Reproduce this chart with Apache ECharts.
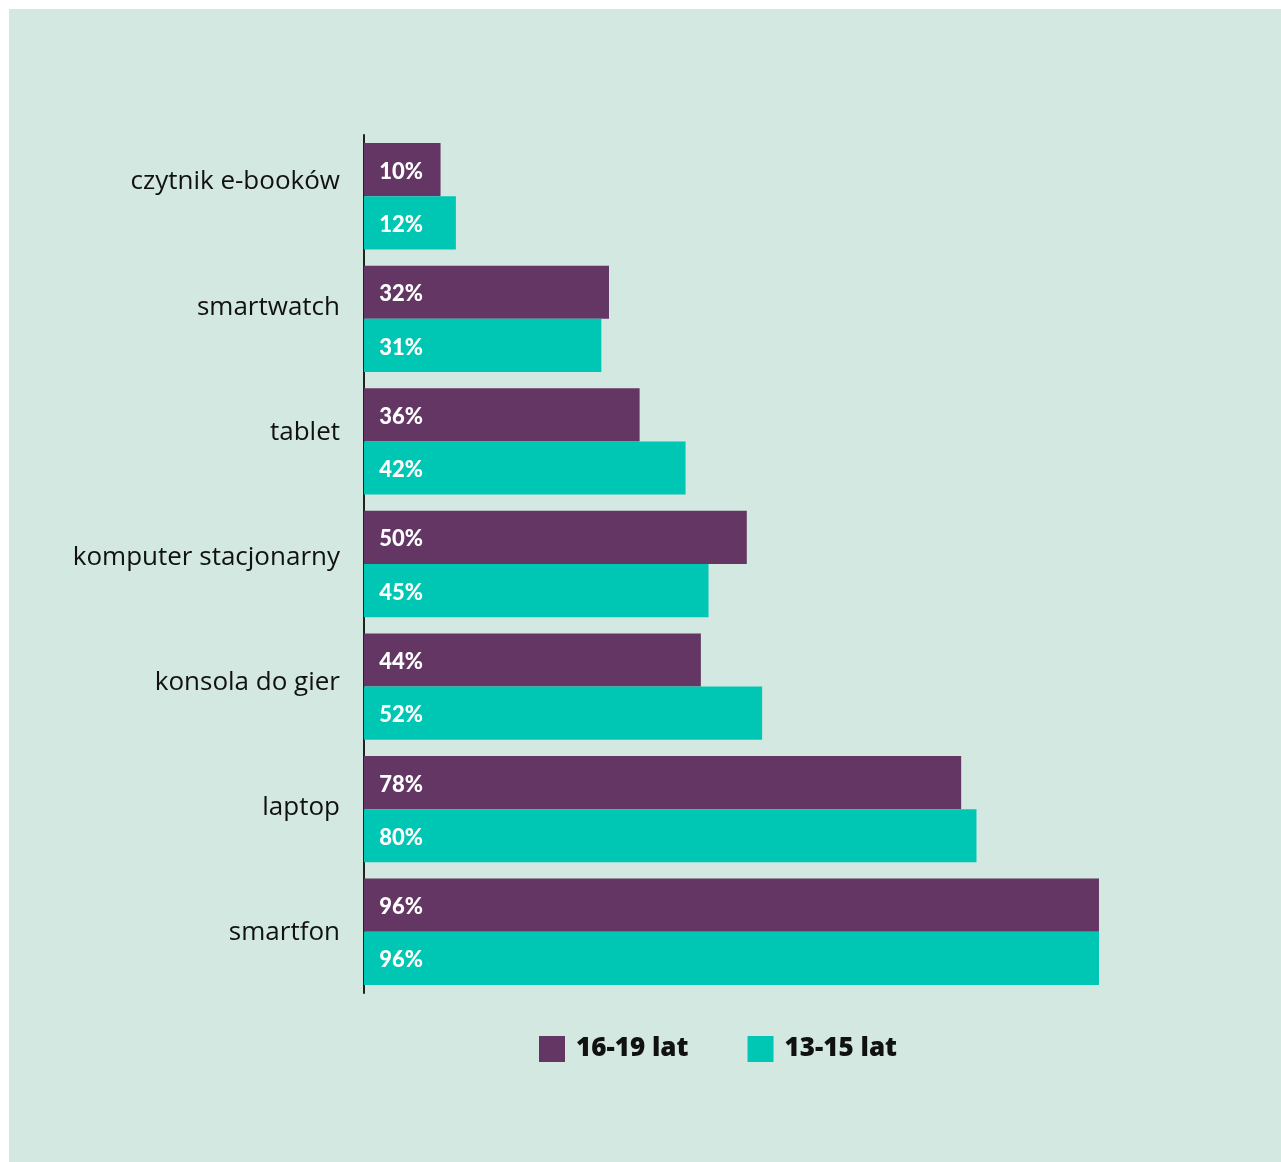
<!DOCTYPE html>
<html>
<head>
<meta charset="utf-8">
<script src="https://cdn.jsdelivr.net/npm/echarts@6/dist/echarts.min.js"></script>
<style>
  html, body { margin: 0; padding: 0; background: #ffffff; }
  #chart { position: absolute; left: 0; top: 0; width: 1281px; height: 1162px; }
</style>
</head>
<body>
<div id="chart"></div>
<script>
// Devices owned, by age group (percent)
const categories = ['czytnik e-booków', 'smartwatch', 'tablet', 'komputer stacjonarny', 'konsola do gier', 'laptop', 'smartfon'];
const seriesNames = ['16-19 lat', '13-15 lat'];
const older = [10, 32, 36, 50, 44, 78, 96];   // 16-19 lat
const younger = [12, 31, 42, 45, 52, 80, 96]; // 13-15 lat

const PURPLE = '#633663';
const TEAL = '#00c6b4';
const MINT = '#d2e8e0';

const chart = echarts.init(document.getElementById('chart'), null, { renderer: 'canvas' });

const valueLabel = {
  show: true,
  position: [59, '50%'],
  offset: [0, 2],
  align: 'right',
  verticalAlign: 'middle',
  color: '#ffffff',
  fontFamily: 'Lato',
  fontWeight: 900,
  fontSize: 22,
  formatter: p => p.value + '%'
};

chart.setOption({
  backgroundColor: '#ffffff',
  animation: false,
  graphic: [{
    type: 'rect',
    left: 9, top: 9, z: -10, silent: true,
    shape: { width: 1272, height: 1153 },
    style: { fill: MINT }
  }],
  grid: [
    // bars
    { left: 364, top: 135, width: 765.6, height: 858, containLabel: false },
    // category captions
    { left: 364, top: 119.4, width: 765.6, height: 876.2, containLabel: false }
  ],
  legend: {
    data: seriesNames,
    left: 539,
    top: 1036,
    padding: 0,
    itemWidth: 26,
    itemHeight: 26,
    itemGap: 59,
    icon: 'rect',
    textStyle: {
      fontFamily: 'Open Sans',
      fontWeight: 800,
      fontSize: 26,
      color: '#111111',
      padding: [3, 0, 0, 6]
    }
  },
  xAxis: [
    { gridIndex: 0, type: 'value', min: 0, max: 100, show: false },
    { gridIndex: 1, type: 'value', min: 0, max: 100, show: false }
  ],
  yAxis: [
    {
      gridIndex: 0,
      type: 'category',
      data: categories,
      inverse: true,
      axisLine: { show: true, lineStyle: { color: '#222222', width: 2 } },
      axisTick: { show: false },
      axisLabel: { show: false },
      splitLine: { show: false }
    },
    {
      gridIndex: 1,
      type: 'category',
      data: categories,
      inverse: true,
      axisLine: { show: false },
      axisTick: { show: false },
      splitLine: { show: false },
      axisLabel: {
        margin: 24,
        color: '#111111',
        fontFamily: 'Open Sans',
        fontSize: 26
      }
    }
  ],
  series: [
    {
      name: seriesNames[0],
      type: 'bar',
      xAxisIndex: 0, yAxisIndex: 0,
      data: older,
      itemStyle: { color: PURPLE },
      barGap: '0%',
      barCategoryGap: '13.2%',
      label: valueLabel
    },
    {
      name: seriesNames[1],
      type: 'bar',
      xAxisIndex: 0, yAxisIndex: 0,
      data: younger,
      itemStyle: { color: TEAL },
      barGap: '0%',
      barCategoryGap: '13.2%',
      label: valueLabel
    }
  ]
});
</script>
</body>
</html>
